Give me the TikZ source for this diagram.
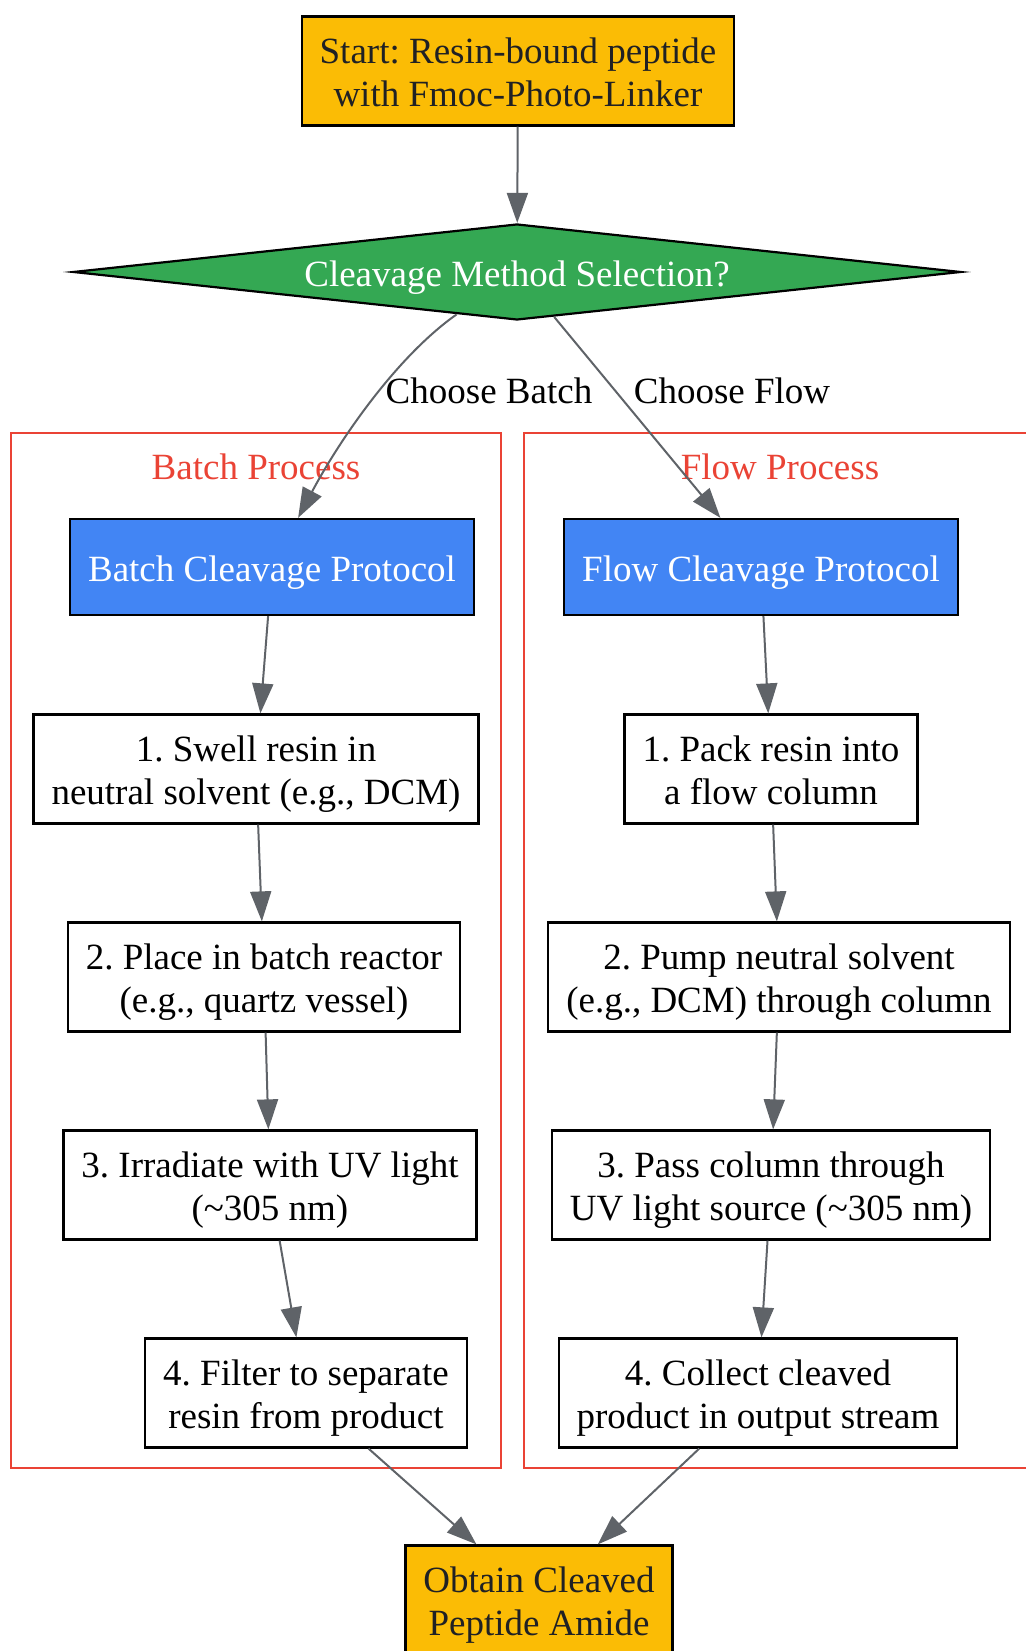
\documentclass[tikz,border=0pt]{standalone}
\usepackage{fontspec}
\setmainfont{Liberation Serif}
\usetikzlibrary{shapes.geometric,arrows.meta}
\definecolor{termyellow}{HTML}{FBBC05}
\definecolor{choicegreen}{HTML}{34A853}
\definecolor{protblue}{HTML}{4285F4}
\definecolor{clusterred}{HTML}{EA4335}
\definecolor{edgegray}{HTML}{5F6368}
\definecolor{textdark}{HTML}{202124}
\frenchspacing

\begin{document}
\begin{tikzpicture}[x=0.5pt,y=0.5pt,
    font=\fontsize{18.5}{21.6}\selectfont,
    textstrut/.style={execute at begin node={\rule{0pt}{#1}},execute at end node={\rule[-5pt]{0pt}{0pt}}},
    basebox/.style={draw=black,line width=1.1pt,rectangle,align=center,inner xsep=9pt,inner ysep=4pt,minimum height=54.5pt},
    stepbox/.style={basebox,fill=white,textstrut=40.7pt},
    protbox/.style={basebox,fill=protblue,text=white,minimum height=48pt,textstrut=19.1pt},
    termbox/.style={basebox,fill=termyellow,text=textdark,textstrut=40.7pt},
    choicebox/.style={draw=black,line width=1.1pt,diamond,fill=choicegreen,text=white,shape aspect=9.25,minimum width=444pt,minimum height=48pt,inner sep=0pt,textstrut=19.1pt},
    link/.style={draw=edgegray,line width=1pt,-{Triangle[length=15pt,width=10.5pt]}},
    clusterframe/.style={draw=clusterred,line width=1pt},
    clusterlabel/.style={text=clusterred}]

\useasboundingbox (0,0) rectangle (1026,1651);

\draw[clusterframe] (11,183) rectangle (501,1218);
\draw[clusterframe] (524,183) rectangle (1040,1218);
\node[clusterlabel] (batchtitle) at (256,1184) {Batch Process};
\node[clusterlabel] (flowtitle) at (780,1184) {Flow Process};

\node[termbox] (start) at (518,1580) {Start: Resin-bound peptide\\with Fmoc-Photo-Linker};
\node[choicebox] (choice) at (517,1379) {Cleavage Method Selection?};

\node[protbox] (batchprot) at (272,1084) {Batch Cleavage Protocol};
\node[stepbox] (batch1) at (256,882) {1. Swell resin in\\neutral solvent (e.g., DCM)};
\node[stepbox] (batch2) at (264,674) {2. Place in batch reactor\\(e.g., quartz vessel)};
\node[stepbox] (batch3) at (270,466) {3. Irradiate with UV light\\(\textasciitilde 305 nm)};
\node[stepbox] (batch4) at (306,258) {4. Filter to separate\\resin from product};

\node[protbox] (flowprot) at (761,1084) {Flow Cleavage Protocol};
\node[stepbox] (flow1) at (771,882) {1. Pack resin into\\a flow column};
\node[stepbox] (flow2) at (779,674) {2. Pump neutral solvent\\(e.g., DCM) through column};
\node[stepbox] (flow3) at (771,466) {3. Pass column through\\UV light source (\textasciitilde 305 nm)};
\node[stepbox] (flow4) at (758,258) {4. Collect cleaved\\product in output stream};

\node[termbox] (product) at (539,51) {Obtain Cleaved\\Peptide Amide};

\draw[link] (start) -- (choice);
\draw[link] (choice) .. controls (396,1294) and (339,1210) .. (batchprot);
\draw[link] (choice) -- (flowprot);
\node (choosebatch) at (489,1260) {Choose Batch};
\node (chooseflow) at (732,1260) {Choose Flow};

\draw[link] (batchprot) -- (batch1);
\draw[link] (batch1) -- (batch2);
\draw[link] (batch2) -- (batch3);
\draw[link] (batch3) -- (batch4);
\draw[link] (flowprot) -- (flow1);
\draw[link] (flow1) -- (flow2);
\draw[link] (flow2) -- (flow3);
\draw[link] (flow3) -- (flow4);

\draw[link] (batch4) -- (product);
\draw[link] (flow4) -- (product);

\end{tikzpicture}
\end{document}
